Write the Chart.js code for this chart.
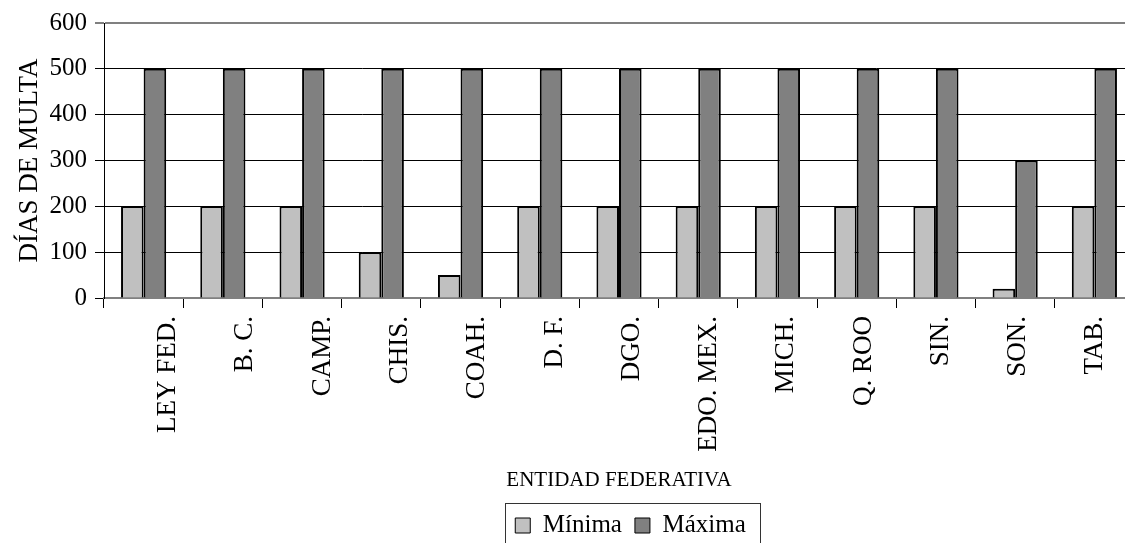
<!DOCTYPE html>
<html>
<head>
<meta charset="utf-8">
<script src="https://cdn.jsdelivr.net/npm/chart.js@4.4.1/dist/chart.umd.min.js"></script>
<style>
  html, body { margin: 0; padding: 0; background: #fff; overflow: hidden; }
  #wrap { width: 1261px; height: 543px; }
</style>
</head>
<body>
<div id="wrap"><canvas id="c" width="1261" height="543"></canvas></div>
<script>
// Categories and values
const entidades = ['LEY FED.', 'B. C.', 'CAMP.', 'CHIS.', 'COAH.', 'D. F.', 'DGO.', 'EDO. MEX.', 'MICH.', 'Q. ROO', 'SIN.', 'SON.', 'TAB.'];
const serieNombres = ['Mínima', 'Máxima'];
const minima = [200, 200, 200, 100, 50, 200, 200, 200, 200, 200, 200, 20, 200];
const maxima = [500, 500, 500, 500, 500, 500, 500, 500, 500, 500, 500, 300, 500];
const yTicks = [0, 100, 200, 300, 400, 500, 600];

const FONT = "'Liberation Serif', 'Times New Roman', serif";

// Frame drawn around the legend items
const legendFrame = {
  id: 'legendFrame',
  afterDraw(chart) {
    const boxes = chart.legend && chart.legend.legendHitBoxes;
    if (!boxes || !boxes.length) return;
    const ctx = chart.ctx;
    const last = boxes[boxes.length - 1];
    const l = Math.round(boxes[0].left - 10);
    const r = Math.round(last.left + last.width + 14);
    const t = Math.round(chart.legend.top + 3);
    ctx.save();
    ctx.strokeStyle = '#333';
    ctx.lineWidth = 1;
    ctx.strokeRect(l + 0.5, t + 0.5, r - l, chart.height);
    ctx.restore();
  }
};

new Chart(document.getElementById('c'), {
  type: 'bar',
  data: {
    labels: entidades,
    datasets: [
      { label: serieNombres[0], data: minima, backgroundColor: '#c0c0c0', borderColor: '#000', borderWidth: 2,
        xAxisID: 'x', yAxisID: 'y', categoryPercentage: 0.57, barPercentage: 1 },
      { label: serieNombres[1], data: maxima, backgroundColor: '#808080', borderColor: '#000', borderWidth: 2,
        xAxisID: 'x', yAxisID: 'y', categoryPercentage: 0.57, barPercentage: 1 }
    ]
  },
  options: {
    responsive: false,
    devicePixelRatio: 1,
    animation: false,
    events: [],
    layout: { padding: { top: 20, left: 0, right: 0, bottom: -5 } },
    scales: {
      x: {
        type: 'category', position: 'bottom', weight: 0, offset: true,
        grid: { display: true, drawOnChartArea: false, drawTicks: true, tickLength: 10, color: '#000', offset: true },
        border: { display: true, color: '#808080', width: 2 },
        ticks: { display: false },
        afterFit: (s) => { s.height = 10; }
      },
      // label row for the category names, slightly narrower spacing than the bars
      xl: {
        type: 'linear', position: 'bottom', weight: 1,
        offset: false, bounds: 'data',
        min: -0.83, max: 12.5,
        grid: { display: false, drawTicks: false, offset: false },
        border: { display: false },
        afterBuildTicks: (s) => { s.ticks = entidades.map((_, i) => ({ value: i })); },
        ticks: {
          autoSkip: false,
          minRotation: 90, maxRotation: 90, padding: 8,
          color: '#000', font: { family: FONT, size: 27 },
          callback: (v) => entidades[Math.round(v)] ?? ''
        },
        title: { display: true, text: 'ENTIDAD FEDERATIVA', color: '#000',
                 font: { family: FONT, size: 21 }, padding: { top: 4, bottom: 7 } },
        afterFit: (s) => { s.height = 192; }
      },
      y: {
        min: yTicks[0], max: yTicks[yTicks.length - 1],
        ticks: { stepSize: yTicks[1] - yTicks[0], padding: 8, color: '#000', font: { family: FONT, size: 25 } },
        grid: {
          color: (c) => (c.tick && (c.tick.value === 600 || c.tick.value === 0)) ? '#808080' : '#000',
          lineWidth: (c) => (c.tick && c.tick.value === 600) ? 2 : 1,
          tickLength: 9, tickColor: '#000', tickWidth: 1
        },
        border: { color: '#000', width: 1 },
        title: { display: true, text: 'DÍAS DE MULTA', color: '#000',
                 font: { family: FONT, size: 27 }, padding: { top: 14, bottom: 0 } },
        afterFit: (s) => { s.width = 104; }
      },
      yR: {
        type: 'linear', position: 'right', display: true,
        grid: { display: false, drawTicks: false },
        border: { display: false },
        ticks: { display: false },
        afterFit: (s) => { s.width = 127; }
      }
    },
    plugins: {
      tooltip: { enabled: false },
      legend: {
        position: 'bottom', align: 'center',
        labels: {
          boxWidth: 15, boxHeight: 15, padding: 13, color: '#000',
          font: { family: FONT, size: 25 },
          generateLabels(chart) {
            const items = Chart.defaults.plugins.legend.labels.generateLabels(chart);
            items.forEach((it) => { it.lineWidth = 1; it.strokeStyle = '#000'; });
            return items;
          }
        }
      }
    }
  },
  plugins: [legendFrame]
});
</script>
</body>
</html>
